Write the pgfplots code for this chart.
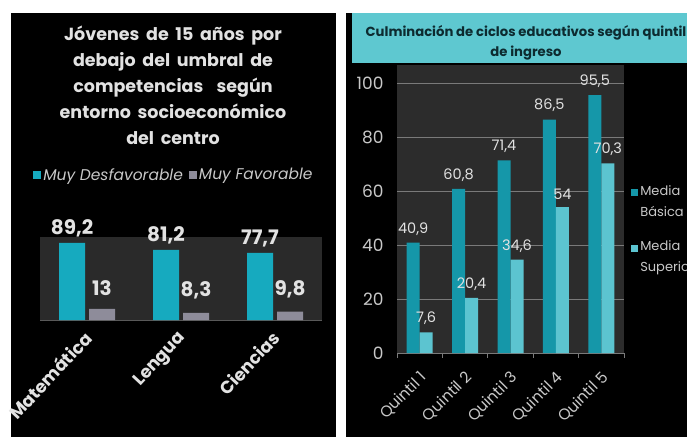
\documentclass[border=0pt]{standalone}
\usepackage{fontspec}
\setmainfont{Poppins}
\newfontfamily\titlefont[WordSpace=1.8]{Poppins}
\usepackage{pgfplots}
\pgfplotsset{compat=1.18}
\definecolor{lcyan}{HTML}{16AABF}
\definecolor{lgray}{HTML}{8E8C9A}
\definecolor{lbg}{HTML}{2A2A2A}
\definecolor{rbg}{HTML}{2C2C2C}
\definecolor{rdark}{HTML}{1597A9}
\definecolor{rlight}{HTML}{5CC4D0}
\definecolor{titlecyan}{HTML}{5EC8D0}
\definecolor{titletxt}{HTML}{0D2B30}
\definecolor{lighttxt}{HTML}{E2E2E2}
\definecolor{midtxt}{HTML}{C8C8C8}
\definecolor{gridc}{HTML}{7A7A7A}
\pgfplotsset{/pgf/number format/assume math mode=true}
\begin{document}
\begin{tikzpicture}
\path[use as bounding box] (0pt,0pt) rectangle (687pt,437pt);
\clip (0pt,0pt) rectangle (687pt,437pt);
\fill[white] (0pt,0pt) rectangle (687pt,437pt);
\fill[black] (11pt,0pt) rectangle (336pt,424pt);
\fill[black] (346pt,0pt) rectangle (687pt,424pt);
\fill[titlecyan] (352pt,374pt) rectangle (687pt,424pt);
% left title
\node[align=center, font=\titlefont\bfseries\fontsize{17.5}{26}\selectfont, text=lighttxt] at (173pt,352pt)
  {Jóvenes de 15 años por\\debajo del umbral de\\competencias\ \ según\\entorno socioeconómico\\del centro};
% right title
\node[align=center, font=\bfseries\fontsize{13.2}{20}\selectfont, text=titletxt] at (526pt,394pt)
  {Culminación de ciclos educativos según quintil\\de ingreso};

% ---------------- left chart
\begin{axis}[
  at={(40pt,117pt)}, anchor=south west, width=282pt, height=83pt, scale only axis,
  ymin=0, ymax=96, xmin=-0.5, xmax=2.5,
  axis background/.style={fill=lbg},
  axis x line*=bottom, axis y line=none,
  x axis line style={draw=gray!70!black, line width=1pt},
  ybar=4pt, bar width=26pt,
  xtick={0,1,2}, xticklabels={Matemática,Lengua,Ciencias},
  major tick length=0pt,
  xticklabel style={rotate=47, anchor=north east, font=\bfseries\fontsize{17.5}{17.5}\selectfont, text=lighttxt, xshift=-6.5pt, yshift=0pt},
  ytick=\empty,
  /pgf/number format/.cd, use comma, fixed, precision=1, /pgfplots/.cd,
  nodes near coords,
  legend columns=2,
  legend style={draw=none, fill=none, text=midtxt, font=\itshape\fontsize{15.5}{16}\selectfont,
    at={(0.475,1.747)}, anchor=center, /tikz/every even column/.append style={column sep=4pt}},
  legend image code/.code={\fill[#1] (0pt,-4pt) rectangle (8pt,4pt);},
]
\addplot[fill=lcyan, draw=none,
  every node near coord/.append style={font=\bfseries\fontsize{20}{20}\selectfont, text=lighttxt, yshift=2pt}]
  coordinates {(0,89.2) (1,81.2) (2,77.7)};
\addplot[fill=lgray, draw=none,
  every node near coord/.append style={font=\bfseries\fontsize{20}{20}\selectfont, text=lighttxt, yshift=10pt}]
  coordinates {(0,13) (1,8.3) (2,9.8)};
\legend{Muy Desfavorable, Muy Favorable}
\end{axis}

% ---------------- right chart
\begin{axis}[
  at={(397pt,84pt)}, anchor=south west, width=227pt, height=288pt, scale only axis,
  ymin=0, ymax=106.7, xmin=0.5, xmax=5.5,
  axis background/.style={fill=rbg},
  axis x line*=bottom, axis y line*=left,
  x axis line style={draw=gridc, line width=0.8pt},
  y axis line style={draw=none},
  ymajorgrids, grid style={draw=gridc, line width=0.7pt},
  ybar=0pt, bar width=13pt,
  xtick={1,2,3,4,5}, xticklabels={Quintil 1,Quintil 2,Quintil 3,Quintil 4,Quintil 5},
  minor xtick={0.5,1.5,2.5,3.5,4.5,5.5},
  major tick length=0pt, minor tick length=5pt, tick align=outside,
  minor tick style={draw=gridc, line width=0.8pt},
  xticklabel style={rotate=45, anchor=north east, font=\fontsize{15.5}{15.5}\selectfont, text=midtxt, yshift=-8pt, xshift=-9pt},
  ytick={0,20,40,60,80,100},
  yticklabel style={font=\fontsize{17}{17}\selectfont, text=midtxt, xshift=-10pt},
  /pgf/number format/.cd, use comma, fixed, precision=1, /pgfplots/.cd,
  nodes near coords,
  every node near coord/.append style={font=\fontsize{14.5}{14.5}\selectfont, text=lighttxt, yshift=4pt},
  legend cell align=left,
  legend style={draw=none, fill=none, text=midtxt, font=\fontsize{13}{21}\selectfont,
    at={(1.018,0.597)}, anchor=north west, row sep=19pt,
    nodes={align=left}},
  legend image code/.code={\fill[#1] (0pt,5pt) rectangle (7pt,12pt);},
]
\addplot[fill=rdark, draw=none] coordinates {(1,40.9) (2,60.8) (3,71.4) (4,86.5) (5,95.5)};
\addplot[fill=rlight, draw=none] coordinates {(1,7.6) (2,20.4) (3,34.6) (4,54) (5,70.3)};
\legend{Media\\Básica, Media\\Superior}
\end{axis}
\end{tikzpicture}
\end{document}
